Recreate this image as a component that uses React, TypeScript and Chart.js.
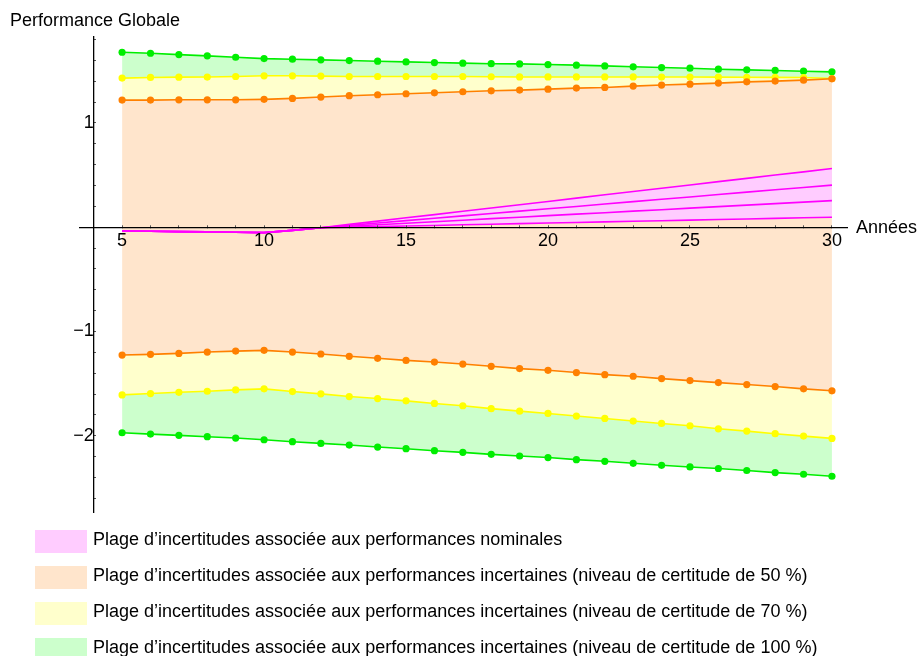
import React, { useEffect, useRef } from "react";
import { Chart, registerables } from "chart.js";

Chart.register(...registerables);

const years = [5, 6, 7, 8, 9, 10, 11, 12, 13, 14, 15, 16, 17, 18, 19, 20, 21, 22, 23, 24, 25, 26, 27, 28, 29, 30];

const nominalTop = [-0.036, -0.039, -0.042, -0.045, -0.048, -0.052, -0.03, -0.005, 0.027, 0.058, 0.09, 0.121, 0.153, 0.184, 0.216, 0.247, 0.279, 0.311, 0.342, 0.374, 0.405, 0.437, 0.468, 0.5, 0.531, 0.563];
const nominal2 = [-0.036, -0.039, -0.042, -0.045, -0.048, -0.052, -0.03, -0.005, 0.018, 0.04, 0.063, 0.086, 0.109, 0.131, 0.154, 0.177, 0.199, 0.222, 0.245, 0.268, 0.29, 0.313, 0.336, 0.359, 0.381, 0.404];
const nominal3 = [-0.036, -0.039, -0.042, -0.045, -0.048, -0.052, -0.03, -0.005, 0.009, 0.024, 0.038, 0.053, 0.067, 0.082, 0.096, 0.111, 0.125, 0.139, 0.154, 0.168, 0.183, 0.197, 0.212, 0.226, 0.241, 0.255];
const nominalBottom = [-0.036, -0.039, -0.042, -0.045, -0.048, -0.052, -0.03, -0.005, 0.001, 0.006, 0.012, 0.017, 0.023, 0.029, 0.034, 0.04, 0.045, 0.051, 0.057, 0.062, 0.068, 0.074, 0.079, 0.085, 0.09, 0.096];

const orangeUpper = [1.219, 1.219, 1.222, 1.222, 1.222, 1.226, 1.235, 1.248, 1.261, 1.27, 1.28, 1.289, 1.299, 1.308, 1.315, 1.324, 1.334, 1.34, 1.353, 1.363, 1.372, 1.382, 1.394, 1.401, 1.41, 1.423];
const orangeLower = [-1.226, -1.219, -1.21, -1.197, -1.188, -1.181, -1.197, -1.216, -1.238, -1.257, -1.277, -1.293, -1.312, -1.334, -1.356, -1.372, -1.394, -1.414, -1.429, -1.452, -1.471, -1.49, -1.509, -1.528, -1.55, -1.569];
const yellowUpper = [1.43, 1.436, 1.439, 1.44, 1.445, 1.452, 1.452, 1.449, 1.445, 1.445, 1.445, 1.445, 1.445, 1.443, 1.441, 1.441, 1.441, 1.441, 1.441, 1.44, 1.44, 1.439, 1.438, 1.437, 1.435, 1.426];
const yellowLower = [-1.608, -1.595, -1.583, -1.573, -1.56, -1.55, -1.576, -1.598, -1.624, -1.643, -1.665, -1.69, -1.712, -1.74, -1.764, -1.786, -1.811, -1.834, -1.859, -1.882, -1.904, -1.933, -1.955, -1.98, -2.003, -2.025];
const greenUpper = [1.678, 1.668, 1.655, 1.643, 1.63, 1.617, 1.611, 1.605, 1.598, 1.592, 1.585, 1.579, 1.573, 1.568, 1.566, 1.56, 1.554, 1.547, 1.538, 1.531, 1.525, 1.515, 1.509, 1.503, 1.496, 1.49];
const greenLower = [-1.971, -1.984, -1.996, -2.009, -2.022, -2.038, -2.057, -2.073, -2.089, -2.108, -2.124, -2.143, -2.159, -2.178, -2.194, -2.209, -2.229, -2.245, -2.264, -2.283, -2.299, -2.314, -2.333, -2.353, -2.369, -2.388];

const xTickValues = [4, 5, 6, 7, 8, 9, 10, 11, 12, 13, 14, 15, 16, 17, 18, 19, 20, 21, 22, 23, 24, 25, 26, 27, 28, 29, 30];
const xTickLabels = ["5", "10", "15", "20", "25", "30"];
const yTickValues = [-2.6, -2.4, -2.2, -2, -1.8, -1.6, -1.4, -1.2, -1, -0.8, -0.6, -0.4, -0.2, 0.2, 0.4, 0.6, 0.8, 1, 1.2, 1.4, 1.6, 1.8];
const yTickLabels: Record<string, string> = { "1": "1", "-1": "−1", "-2": "−2" };

const legendLabels = [
  "Plage d’incertitudes associée aux performances nominales",
  "Plage d’incertitudes associée aux performances incertaines (niveau de certitude de 50 %)",
  "Plage d’incertitudes associée aux performances incertaines (niveau de certitude de 70 %)",
  "Plage d’incertitudes associée aux performances incertaines (niveau de certitude de 100 %)",
];
const legendColors = ["#ffccff", "#ffe5cc", "#ffffcc", "#ccffcc"];

const FONT = "'Liberation Sans', Arial, Helvetica, sans-serif";

const MAGENTA = "#ff00ff";
const ORANGE = "#ff8000";
const YELLOW = "#ffff00";
const GREEN = "#00ee00";

function pts(arr: number[]) {
  return years.map((x, i) => ({ x, y: arr[i] }));
}

export default function App() {
  const ref = useRef<HTMLCanvasElement | null>(null);

  useEffect(() => {
    if (!ref.current) return;
    const lineDs = (data: number[], color: string, fill: any, fillColor: string, points: boolean) => ({
      data: pts(data),
      borderColor: color,
      borderWidth: 1.6,
      backgroundColor: fillColor,
      fill,
      tension: 0,
      pointRadius: points ? 3.6 : 0,
      pointBackgroundColor: color,
      pointBorderWidth: 0,
      pointHoverRadius: 0,
    });
    const chart = new Chart(ref.current, {
      type: "line",
      data: {
        datasets: [
          lineDs(nominalTop, MAGENTA, 3, legendColors[0], false),
          lineDs(nominal2, MAGENTA, false, "transparent", false),
          lineDs(nominal3, MAGENTA, false, "transparent", false),
          lineDs(nominalBottom, MAGENTA, false, "transparent", false),
          lineDs(orangeUpper, ORANGE, 5, legendColors[1], true),
          lineDs(orangeLower, ORANGE, false, "transparent", true),
          lineDs(yellowUpper, YELLOW, 4, legendColors[2], true),
          lineDs(yellowLower, YELLOW, 5, legendColors[2], true),
          lineDs(greenUpper, GREEN, 6, legendColors[3], true),
          lineDs(greenLower, GREEN, 7, legendColors[3], true),
        ] as any,
      },
      options: {
        animation: false,
        responsive: false,
        events: [],
        layout: { padding: { left: 79.5, right: 71, top: 37, bottom: 144 } },
        plugins: {
          legend: { display: false },
          tooltip: { enabled: false },
          filler: { drawTime: "beforeDatasetsDraw" } as any,
        },
        scales: {
          x: {
            type: "linear",
            min: 3.5,
            max: 30.53,
            position: { y: 0 } as any,
            afterBuildTicks: (scale: any) => {
              scale.ticks = xTickValues.map((v) => ({ value: v }));
            },
            grid: {
              display: true,
              drawOnChartArea: false,
              drawTicks: true,
              tickLength: -3,
              tickColor: "#555",
              tickWidth: 1,
              z: 1,
            },
            border: { display: true, color: "#000", width: 1.3, z: 2 },
            ticks: {
              autoSkip: false,
              maxRotation: 0,
              padding: 6,
              color: "#000",
              z: 2,
              font: { family: FONT, size: 18 },
              callback: (v: any) => {
                const s = String(v);
                return xTickLabels.includes(s) ? s : "";
              },
            },
          },
          y: {
            type: "linear",
            min: -2.731,
            max: 1.824,
            position: { x: 4 } as any,
            afterBuildTicks: (scale: any) => {
              scale.ticks = yTickValues.map((v) => ({ value: v }));
            },
            grid: {
              display: true,
              drawOnChartArea: false,
              drawTicks: true,
              tickLength: -3,
              tickColor: "#555",
              tickWidth: 1,
              z: 1,
            },
            border: { display: true, color: "#000", width: 1.3, z: 2 },
            ticks: {
              autoSkip: false,
              padding: 7,
              color: "#000",
              z: 2,
              font: { family: FONT, size: 18 },
              callback: (v: any) => yTickLabels[String(v)] ?? "",
            },
          },
        },
      },
    });
    return () => chart.destroy();
  }, []);

  const textStyle: React.CSSProperties = {
    position: "absolute",
    fontFamily: FONT,
    fontSize: 18,
    lineHeight: "18px",
    color: "#000",
    whiteSpace: "nowrap",
  };

  return (
    <div style={{ position: "absolute", left: 0, top: 0, width: 918, height: 656, overflow: "hidden", background: "#fff" }}>
      <canvas ref={ref} width={918} height={656} style={{ position: "absolute", left: 0, top: 0, width: 918, height: 656 }} />
      <div style={{ ...textStyle, left: 10, top: 11.3 }}>Performance Globale</div>
      <div style={{ ...textStyle, left: 856, top: 217.5 }}>Années</div>
      {legendLabels.map((label, i) => (
        <React.Fragment key={i}>
          <div
            style={{
              position: "absolute",
              left: 35,
              top: 529.5 + 36 * i,
              width: 52,
              height: 23,
              background: legendColors[i],
            }}
          />
          <div style={{ ...textStyle, left: 93, top: 529.8 + 36 * i }}>{label}</div>
        </React.Fragment>
      ))}
    </div>
  );
}
